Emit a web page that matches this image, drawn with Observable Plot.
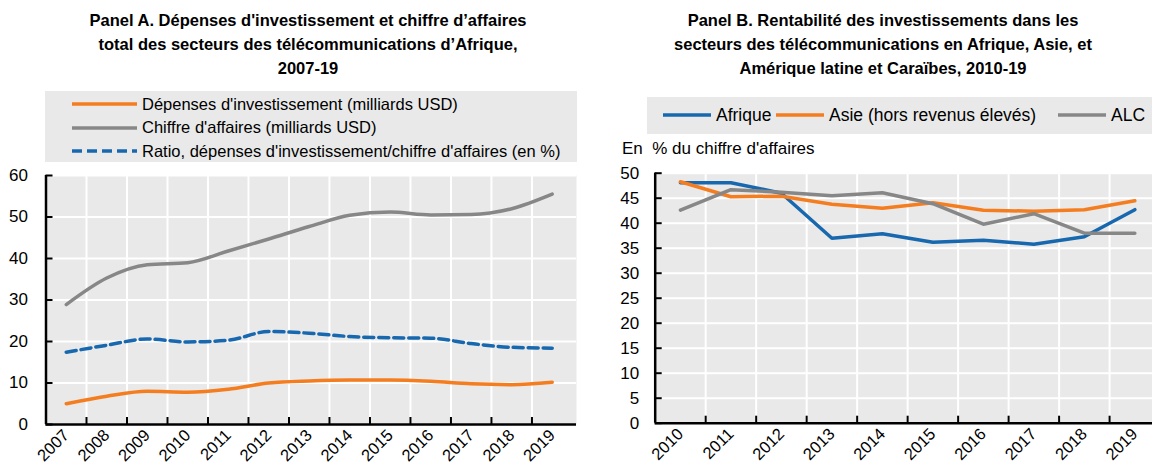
<!DOCTYPE html>
<html><head><meta charset="utf-8">
<script src="https://cdn.jsdelivr.net/npm/d3@7"></script>
<script src="https://cdn.jsdelivr.net/npm/@observablehq/plot@0.6"></script>
<style>
html,body{margin:0;padding:0}
body{width:1152px;height:466px;position:relative;background:#fff;overflow:hidden;
 font-family:"Liberation Sans Narrow","Arial Narrow","Liberation Sans",Arial,sans-serif;color:#000}
.abs{position:absolute}
.title{font-weight:bold;font-size:16.5px;line-height:24px;text-align:center}
.leg{background:#e9e9e9;font-size:16.5px}
.row{position:absolute;display:flex;align-items:center;white-space:nowrap}
.sw{display:inline-block;margin-right:5px}
svg{font-family:"Liberation Sans Narrow","Arial Narrow","Liberation Sans",Arial,sans-serif}
</style></head>
<body>
<script>
// ---------- DATA ----------
const yearsA = [2007,2008,2009,2010,2011,2012,2013,2014,2015,2016,2017,2018,2019];
const depenses = [5.0,6.8,8.0,7.8,8.5,10.0,10.5,10.7,10.7,10.4,9.8,9.6,10.2];
const chiffre  = [28.9,35.3,38.5,39.0,41.8,44.7,47.7,50.4,51.2,50.5,50.6,52.0,55.5];
const ratio    = [17.4,19.1,20.6,19.9,20.3,22.4,22.0,21.2,20.9,20.8,19.5,18.6,18.4];
const seriesA = ["Dépenses d'investissement (milliards USD)","Chiffre d'affaires (milliards USD)","Ratio, dépenses d'investissement/chiffre d'affaires (en %)"];
const yTicksA = [0,10,20,30,40,50,60];

const yearsB = [2010,2011,2012,2013,2014,2015,2016,2017,2018,2019];
const afrique = [48.1,48.1,46.0,37.0,37.9,36.2,36.6,35.8,37.3,42.7];
const asie    = [48.3,45.3,45.4,43.8,43.0,44.1,42.6,42.4,42.7,44.5];
const alc     = [42.6,46.7,46.2,45.5,46.1,43.9,39.8,41.9,38.0,38.0];
const seriesB = ["Afrique","Asie (hors revenus élevés)","ALC"];
const yTicksB = [0,5,10,15,20,25,30,35,40,45,50];

const titleA = ["Panel A. Dépenses d'investissement et chiffre d’affaires","total des secteurs des télécommunications d’Afrique,","2007-19"];
const titleB = ["Panel B. Rentabilité des investissements dans les","secteurs des télécommunications en Afrique, Asie, et","Amérique latine et Caraïbes, 2010-19"];
const unitB = "En  % du chiffre d'affaires";

const ORANGE = "#f47d20", GREY = "#878787", BLUE = "#1768ae", BG = "#e9e9e9";

// ---------- helpers ----------
function el(tag, cls, style, html){const e=document.createElement(tag); if(cls) e.className=cls; if(style) e.style.cssText=style; if(html!=null) e.innerHTML=html; document.body.appendChild(e); return e;}
function swatch(color, dash, w){return `<svg class="sw" width="${w}" height="6"><line x1="0" y1="3" x2="${w}" y2="3" stroke="${color}" stroke-width="3.5" ${dash?'stroke-dasharray="10,5"':''}/></svg>`;}

// titles
el("div","abs title","left:0;top:8px;width:616px;", titleA.join("<br>"));
el("div","abs title","left:614px;top:8px;width:538px;", titleB.join("<br>"));

// legend A
const legA = el("div","abs leg","left:45px;top:91px;width:532px;height:71px;");
[[ORANGE,false],[GREY,false],[BLUE,true]].forEach(([c,d],i)=>{
  const r=document.createElement("div"); r.className="row"; r.style.cssText=`left:27px;top:${2+i*23.5}px;height:22px;`;
  r.innerHTML = swatch(c,d,65)+`<span>${seriesA[i]}</span>`; legA.appendChild(r);
});
// legend B
const legB = el("div","abs leg","left:647px;top:97px;width:505px;height:37px;font-size:17.5px;");
[[BLUE,16],[ORANGE,129],[GREY,411]].forEach(([c,x],i)=>{
  const r=document.createElement("div"); r.className="row"; r.style.cssText=`left:${x}px;top:7px;height:22px;`;
  r.innerHTML = swatch(c,false,48)+`<span>${seriesB[i]}</span>`; legB.appendChild(r);
});
el("div","abs","left:622px;top:139px;font-size:17px;white-space:pre;", unitB);

const FS = 17, FSX = 16.5;
// ---------- Panel A ----------
const dataA = yearsA.flatMap((y,i)=>[
  {year:y, value:depenses[i], s:seriesA[0]},
  {year:y, value:chiffre[i], s:seriesA[1]},
  {year:y, value:ratio[i], s:seriesA[2]}]);
const halfA = yearsA.map(y=>y+0.5);
const plotA = Plot.plot({
  width:580, height:306, marginLeft:45.5, marginRight:4, marginTop:15, marginBottom:42,
  style:{background:"transparent", fontSize:FS+"px", color:"#000"},
  x:{domain:[2006.5,2019.6], label:null}, y:{domain:[0,60], label:null},
  marks:[
    Plot.frame({fill:BG, stroke:null}),
    Plot.gridY(yTicksA,{stroke:"#fff", strokeOpacity:1, strokeWidth:2}),
    Plot.gridX(halfA.slice(0,-1),{stroke:"#fff", strokeOpacity:1, strokeWidth:2}),
    Plot.line(dataA.filter(d=>d.s===seriesA[1]),{x:"year",y:"value",stroke:GREY,strokeWidth:3.5,curve:"monotone-x"}),
    Plot.line(dataA.filter(d=>d.s===seriesA[2]),{x:"year",y:"value",stroke:BLUE,strokeWidth:3.5,strokeDasharray:"10,5",curve:"monotone-x"}),
    Plot.line(dataA.filter(d=>d.s===seriesA[0]),{x:"year",y:"value",stroke:ORANGE,strokeWidth:3.5,curve:"monotone-x"}),
    Plot.axisY(yTicksA,{tickSize:7, insetLeft:7, tickPadding:18, strokeWidth:2, fontSize:FS, label:null}),
    Plot.axisX(halfA.slice(0,-1),{tickSize:7, insetBottom:7, tickFormat:()=>"", strokeWidth:2, label:null}),
    Plot.axisX(yearsA,{tickSize:0, tickRotate:-45, tickPadding:8, fontSize:FSX, tickFormat:d=>String(d), label:null}),
    Plot.ruleX([2006.5],{stroke:"#000", strokeWidth:2.5}),
    Plot.ruleY([0],{stroke:"#000", strokeWidth:2.5})
  ]
});
plotA.style.cssText="position:absolute;left:0;top:160px;";
document.body.appendChild(plotA);

// ---------- Panel B ----------
const dataB = yearsB.flatMap((y,i)=>[
  {year:y, value:afrique[i], s:seriesB[0]},
  {year:y, value:asie[i], s:seriesB[1]},
  {year:y, value:alc[i], s:seriesB[2]}]);
const halfB = yearsB.map(y=>y+0.5);
const plotB = Plot.plot({
  width:572, height:306, marginLeft:74.7, marginRight:0, marginTop:12.7, marginBottom:43.3,
  style:{background:"transparent", fontSize:FS+"px", color:"#000"},
  x:{domain:[2009.5,2019.35], label:null}, y:{domain:[0,50], label:null},
  marks:[
    Plot.frame({fill:BG, stroke:null}),
    Plot.gridY(yTicksB,{stroke:"#fff", strokeOpacity:1, strokeWidth:2}),
    Plot.gridX(halfB.slice(0,-1),{stroke:"#fff", strokeOpacity:1, strokeWidth:2}),
    Plot.line(dataB.filter(d=>d.s===seriesB[0]),{x:"year",y:"value",stroke:BLUE,strokeWidth:3.5}),
    Plot.line(dataB.filter(d=>d.s===seriesB[1]),{x:"year",y:"value",stroke:ORANGE,strokeWidth:3.5}),
    Plot.line(dataB.filter(d=>d.s===seriesB[2]),{x:"year",y:"value",stroke:GREY,strokeWidth:3.5}),
    Plot.axisY(yTicksB,{tickSize:7, insetLeft:7, tickPadding:16, strokeWidth:2, fontSize:FS, label:null}),
    Plot.axisX(halfB.slice(0,-1),{tickSize:7, insetBottom:7, tickFormat:()=>"", strokeWidth:2, label:null}),
    Plot.axisX(yearsB,{tickSize:0, tickRotate:-45, tickPadding:8, fontSize:FSX, tickFormat:d=>String(d), label:null}),
    Plot.ruleX([2009.5],{stroke:"#000", strokeWidth:2.5}),
    Plot.ruleY([0],{stroke:"#000", strokeWidth:2.5})
  ]
});
plotB.style.cssText="position:absolute;left:580px;top:160px;";
document.body.appendChild(plotB);
</script>
</body></html>
